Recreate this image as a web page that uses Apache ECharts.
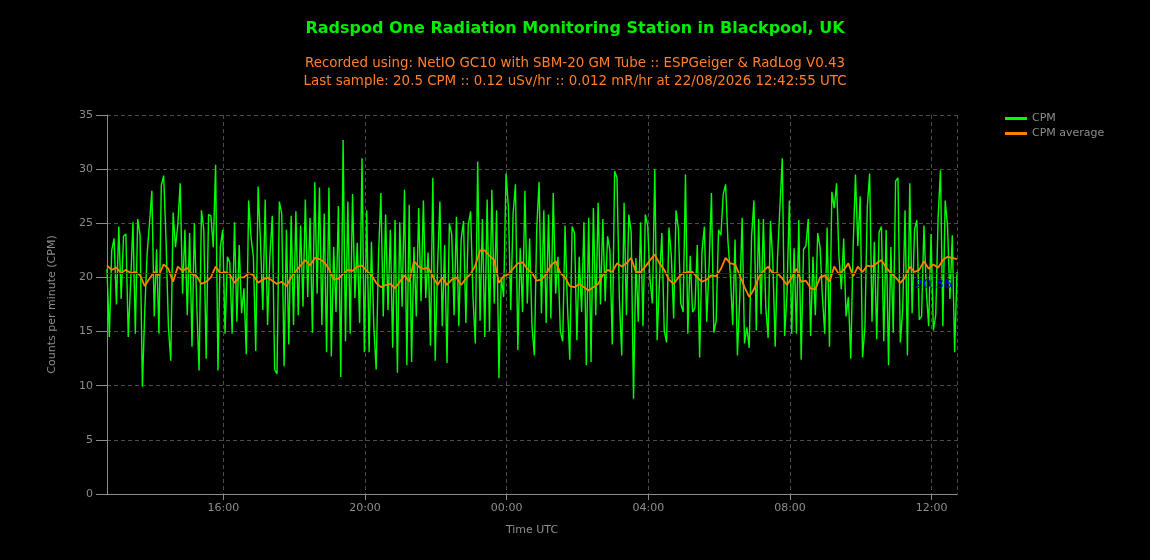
<!DOCTYPE html>
<html>
<head>
<meta charset="utf-8">
<title>Radspod One Radiation Monitoring Station</title>
<script src="https://cdn.jsdelivr.net/npm/echarts@6/dist/echarts.min.js"></script>
<style>
  html, body { margin: 0; padding: 0; background: #000; }
  #main { width: 1150px; height: 560px; }
</style>
</head>
<body>
<div id="main"></div>
<script>
// last sample time, one CPM reading every 4 minutes over 24 hours
var lastSample = Date.UTC(2026, 7, 22, 12, 42, 55);
var cpmStepMin = 4;
var avgStepMin = 8;

// CPM readings (left to right)
var cpmValues = [
  20.8, 14.5, 22.5, 23.6, 17.5, 24.7, 18, 23.8, 24, 14.5, 19.5, 25.1,
  14.8, 25.4, 23.9, 9.9, 17, 22.2, 25, 28, 16.4, 22.6, 14.8, 28.5,
  29.4, 23.5, 15.5, 12.3, 26, 22.8, 24.9, 28.7, 18.5, 24.4, 16.5, 24.1,
  13.6, 25, 17.5, 11.4, 26.2, 24.4, 12.5, 25.8, 25.7, 22.8, 30.4, 11.4,
  22.8, 24.4, 14.8, 21.9, 21.4, 14.8, 25.1, 15.9, 23, 16.7, 19, 12.9,
  27.1, 23.7, 21.9, 13.2, 28.4, 23.3, 17, 27.2, 15.6, 22, 25.7, 11.5,

  11.1, 27, 25.9, 11.8, 24.4, 13.8, 25.7, 15.6, 26.1, 16.5, 24.8, 17.3,
  27.2, 18.2, 25.5, 14.9, 28.8, 18.5, 28.3, 15.6, 25.9, 13.1, 28.3, 12.7,
  22.8, 16.8, 26.6, 10.8, 32.7, 14.1, 27, 14.8, 27.7, 18.1, 23.2, 15.8,
  31, 13.1, 26.2, 13.1, 23.3, 15.5, 11.5, 22.1, 27.8, 16.4, 25.8, 17,
  24.4, 13.5, 25.3, 11.2, 25.1, 17.3, 28.1, 11.9, 26.7, 12.2, 22.8, 16.4,
  26.4, 17.8, 27.1, 18.1, 22.3, 13.7, 29.2, 12.3, 21, 27, 15.5, 23,

  12.1, 25, 24, 16.5, 25.6, 15.5, 23.5, 25.2, 15.8, 24.8, 26.1, 18.2,
  13.9, 30.7, 16, 25.4, 14.5, 27.2, 15, 28.1, 17.6, 26.2, 10.7, 20,
  18.2, 29.6, 26.5, 17, 25.9, 28.6, 13.3, 22.7, 16.8, 28, 17.6, 23.6,
  15.5, 12.8, 24.5, 28.8, 16.7, 26.2, 15.8, 25.8, 16.2, 27.8, 18.5, 21.9,
  15, 14.1, 24.8, 17.5, 12.4, 24.7, 24.1, 14.2, 21.9, 16.8, 25.1, 11.9,
  25.5, 12.2, 26.4, 16.5, 26.9, 17.5, 25.4, 17.8, 23.8, 22.5, 13.8, 29.8,

  29.2, 18, 12.8, 26.9, 16.5, 25.8, 24.2, 8.8, 21.8, 15.9, 25.1, 15.5,
  25.8, 24.8, 19.7, 17.6, 30, 14.2, 19.8, 24.1, 15.1, 14, 24.6, 22,
  16.2, 26.2, 24.5, 17.6, 16.8, 29.5, 14.8, 22, 16.8, 17.2, 23, 12.6,
  22.4, 24.7, 15.9, 21, 27.8, 14.9, 16, 24.4, 23.9, 27.7, 28.6, 23.3,
  20.3, 15.6, 23.5, 12.8, 18.2, 25.5, 13.9, 15.4, 13.5, 23.8, 27.1, 15.1,
  25.4, 16.6, 25.4, 17.3, 14.4, 25.2, 21.5, 13.6, 21.9, 26.5, 31, 14.6,

  18.5, 27.1, 14.8, 22.7, 14.8, 25.3, 12.4, 22.6, 22.9, 25.4, 14.6, 21.9,
  16.5, 24.1, 22.8, 18.2, 14.8, 24.6, 13.6, 27.9, 26.4, 28.7, 21.9, 18.9,
  23.6, 16.4, 18.2, 12.5, 22.7, 29.5, 22.9, 27.5, 12.6, 15.4, 26.5, 29.6,
  15.9, 23.3, 14.3, 24.2, 24.7, 14.1, 24.4, 11.9, 22.8, 14.9, 28.9, 29.2,
  14, 17, 26.2, 12.8, 28.7, 16.7, 24.4, 25.3, 16.1, 16.4, 24.8, 18.8,
  15.5, 24, 15.1, 16.5, 25.5, 29.9, 15.5, 27.1, 24.7, 18, 23.9, 13.1,
  20.5
];

// running average, one value every 8 minutes
var avgValues = [
  21.1, 20.7, 20.9, 20.4, 20.7, 20.4, 20.5, 20.2, 19.2, 19.9, 20.5, 20.2,
  21.2, 20.8, 19.6, 21, 20.6, 20.9, 20.3, 20.1, 19.4, 19.6, 20, 21,
  20.4, 20.5, 20.3, 19.5, 20, 20, 20.4, 20.2, 19.5, 19.8, 20, 19.7,

  19.4, 19.6, 19.2, 20, 20.6, 21.1, 21.6, 21.1, 21.8, 21.7, 21.4, 20.8,
  19.8, 19.9, 20.3, 20.7, 20.6, 21, 21.1, 20.6, 20.2, 19.5, 19.1, 19.3,
  19.4, 19, 19.6, 20.2, 19.6, 21.5, 21, 20.8, 20.9, 20.1, 19.3, 20,

  19.3, 19.8, 20, 19.3, 19.9, 20.3, 21.1, 22.5, 22.5, 22, 21.6, 19.5,
  20.1, 20.3, 20.8, 21.3, 21.4, 20.8, 20.4, 19.7, 19.8, 20.3, 21.1, 21.5,
  20.4, 20, 19.2, 19.1, 19.4, 19.1, 18.8, 19.1, 19.4, 20.2, 20.7, 20.5,

  21.3, 21, 21.3, 21.8, 20.5, 20.5, 21, 21.6, 22.1, 21.3, 20.7, 19.8,
  19.4, 20, 20.4, 20.5, 20.5, 20, 19.6, 19.8, 20.2, 20.1, 20.8, 21.8,
  21.3, 21.2, 20.2, 19.1, 18.2, 18.9, 20, 20.6, 21, 20.4, 20.4, 19.9,

  19.3, 20, 20.8, 19.6, 19.7, 19, 18.9, 20, 20.2, 19.6, 21, 20.3,
  20.7, 21.3, 20.1, 21, 20.5, 21.1, 21, 21.3, 21.6, 20.9, 20.4, 20,
  19.5, 20, 21, 20.5, 20.7, 21.5, 20.8, 21.2, 20.9, 21.6, 21.9, 21.8,
  21.7
];

// overall mean shown as a blue reference line
var meanCpm = 20.36;

var titleText = 'Radspod One Radiation Monitoring Station in Blackpool, UK';
var subLines = [
  'Recorded using: NetIO GC10 with SBM-20 GM Tube :: ESPGeiger & RadLog V0.43',
  'Last sample: 20.5 CPM :: 0.12 uSv/hr :: 0.012 mR/hr at 22/08/2026 12:42:55 UTC'
];

var toSeries = function (values, stepMin) {
  var res = [];
  var first = lastSample - (values.length - 1) * stepMin * 60000;
  for (var i = 0; i < values.length; i++) {
    res.push([first + i * stepMin * 60000, values[i]]);
  }
  return res;
};

var myChart = echarts.init(document.getElementById('main'));

var axisGrey = '#8c8c8c';
var font = 'DejaVu Sans, Verdana, sans-serif';

var option = {
  backgroundColor: '#000',
  useUTC: true,
  animation: false,
  textStyle: { fontFamily: font },
  title: {
    text: titleText,
    subtext: subLines.join('\n'),
    left: 'center',
    top: 16,
    itemGap: 18,
    textStyle: { color: '#00ee00', fontSize: 16, fontWeight: 'bold', fontFamily: font },
    subtextStyle: { color: '#ff7f2a', fontSize: 13.4, lineHeight: 18, fontFamily: font }
  },
  legend: {
    orient: 'vertical',
    left: 1000,
    top: 108,
    icon: 'rect',
    itemWidth: 22,
    itemHeight: 3,
    itemGap: 4,
    textStyle: { color: axisGrey, fontSize: 11 },
    data: ['CPM', 'CPM average']
  },
  grid: { left: 107, right: 193, top: 115, bottom: 66 },
  xAxis: {
    type: 'time',
    min: 'dataMin',
    max: 'dataMax',
    minInterval: 4 * 3600 * 1000,
    maxInterval: 4 * 3600 * 1000,
    name: 'Time UTC',
    nameLocation: 'middle',
    nameGap: 31,
    nameTextStyle: { color: axisGrey, fontSize: 11 },
    axisLine: { lineStyle: { color: axisGrey } },
    axisTick: { show: true, length: 6, lineStyle: { color: axisGrey } },
    axisLabel: { color: axisGrey, fontSize: 11, margin: 9, formatter: '{HH}:{mm}' },
    splitLine: { show: true, lineStyle: { color: '#4a4a4a', type: [4, 3] } }
  },
  yAxis: {
    type: 'value',
    min: 0,
    max: 35,
    interval: 5,
    name: 'Counts per minute (CPM)',
    nameLocation: 'middle',
    nameGap: 49,
    nameTextStyle: { color: axisGrey, fontSize: 11 },
    axisLine: { show: true, lineStyle: { color: axisGrey } },
    axisTick: { show: true, length: 11, lineStyle: { color: axisGrey } },
    axisLabel: { color: axisGrey, fontSize: 11, margin: 14 },
    splitLine: { show: true, lineStyle: { color: '#4a4a4a', type: [4, 3] } }
  },
  series: [
    {
      name: 'CPM',
      type: 'line',
      data: toSeries(cpmValues, cpmStepMin),
      symbol: 'none',
      lineStyle: { color: '#00ff00', width: 1.4 },
      itemStyle: { color: '#00ff00' },
      markLine: {
        silent: true,
        symbol: 'none',
        lineStyle: { color: '#0000ff', width: 1, type: 'solid' },
        label: { position: 'insideEndBottom', color: '#0000ff', fontSize: 13, formatter: '{c}' },
        data: [{ yAxis: meanCpm }]
      }
    },
    {
      name: 'CPM average',
      type: 'line',
      data: toSeries(avgValues, avgStepMin),
      symbol: 'none',
      lineStyle: { color: '#ff8000', width: 1.8 },
      itemStyle: { color: '#ff8000' }
    }
  ]
};

myChart.setOption(option);
</script>
</body>
</html>
